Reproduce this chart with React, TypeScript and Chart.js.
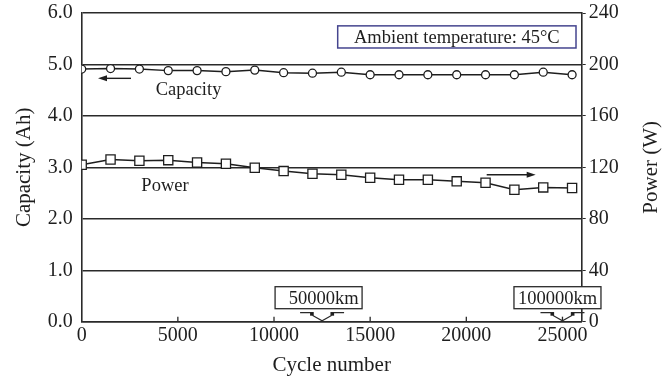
import React, { useEffect, useRef } from 'react';
import { Chart, registerables } from 'chart.js';

Chart.register(...registerables);

const cycles = [0, 1500, 3000, 4500, 6000, 7500, 9000, 10500, 12000, 13500, 15000, 16500, 18000, 19500, 21000, 22500, 24000, 25500];
const capacity = [4.91, 4.92, 4.91, 4.88, 4.88, 4.86, 4.89, 4.84, 4.83, 4.85, 4.80, 4.80, 4.80, 4.80, 4.80, 4.80, 4.85, 4.80];
const power = [122.0, 126.1, 125.1, 125.6, 123.8, 122.8, 119.7, 117.1, 115.0, 114.3, 111.9, 110.4, 110.4, 109.1, 108.0, 102.6, 104.4, 103.9];
const xTickValues = [0, 5000, 10000, 15000, 20000, 25000];
const milestoneCycles = [12500, 25000];
const milestoneLabels = ['50000km', '100000km'];

const FONT = "'Liberation Serif', 'Times New Roman', serif";
const INK = '#1e1e1e';
const LINE = '#2a2a2a';
const SHIFT = 8;

const annotations = {
  id: 'annotations',
  afterDraw(chart: any) {
    const { ctx, scales } = chart;
    const x = scales.x;
    const y = scales.y;
    const px = (v: number) => x.getPixelForValue(v);
    const py = (v: number) => y.getPixelForValue(v);
    ctx.save();

    // inward x ticks
    ctx.strokeStyle = LINE;
    ctx.lineWidth = 1.3;
    xTickValues.slice(1).forEach((t) => {
      ctx.beginPath();
      ctx.moveTo(px(t), y.bottom);
      ctx.lineTo(px(t), y.bottom - 5);
      ctx.stroke();
    });

    // ambient box
    const bx0 = px(13312), bx1 = px(25704), by0 = py(5.75), by1 = py(5.32);
    ctx.fillStyle = '#fff';
    ctx.fillRect(bx0, by0, bx1 - bx0, by1 - by0);
    ctx.strokeStyle = '#45458f';
    ctx.lineWidth = 1.5;
    ctx.strokeRect(bx0, by0, bx1 - bx0, by1 - by0);
    ctx.fillStyle = INK;
    ctx.font = `18.5px ${FONT}`;
    ctx.textAlign = 'center';
    ctx.textBaseline = 'middle';
    ctx.fillText('Ambient temperature: 45°C', (bx0 + bx1) / 2, (by0 + by1) / 2 + 1);

    // arrows
    const arrow = (x0: number, x1: number, yy: number) => {
      ctx.strokeStyle = INK;
      ctx.fillStyle = INK;
      ctx.lineWidth = 1.4;
      const dir = Math.sign(x1 - x0);
      ctx.beginPath();
      ctx.moveTo(x0, yy);
      ctx.lineTo(x1 - dir * 6, yy);
      ctx.stroke();
      ctx.beginPath();
      ctx.moveTo(x1, yy);
      ctx.lineTo(x1 - dir * 9, yy - 3);
      ctx.lineTo(x1 - dir * 9, yy + 3);
      ctx.closePath();
      ctx.fill();
    };
    arrow(px(2564), px(848), py(4.73));
    arrow(px(21060), px(23608), py(2.857));

    ctx.fillStyle = INK;
    ctx.font = `18.5px ${FONT}`;
    ctx.textAlign = 'center';
    ctx.textBaseline = 'middle';
    ctx.fillText('Capacity', px(5554), py(4.51));
    ctx.fillText('Power', px(4332), py(2.63));

    // milestone boxes
    milestoneCycles.forEach((c, i) => {
      const cx = px(c);
      const base = y.bottom;
      ctx.font = `18.5px ${FONT}`;
      const w = 87;
      const bxl = i === 0 ? cx - 47 : cx - 48.5;
      const top = base - 35;
      const h = 22;
      ctx.fillStyle = '#fff';
      ctx.fillRect(bxl, top, w, h);
      ctx.strokeStyle = LINE;
      ctx.lineWidth = 1.3;
      ctx.strokeRect(bxl, top, w, h);
      ctx.fillStyle = INK;
      ctx.textAlign = 'center';
      ctx.textBaseline = 'middle';
      ctx.fillText(milestoneLabels[i], bxl + w / 2 + (i === 0 ? 5 : 0), top + h / 2 + 1);
      // bracket arrow
      ctx.beginPath();
      ctx.moveTo(cx - 22, base - 9);
      ctx.lineTo(cx - 9, base - 9);
      ctx.lineTo(cx - 9, base - 6);
      ctx.lineTo(cx, base - 1);
      ctx.lineTo(cx + 9, base - 6);
      ctx.lineTo(cx + 9, base - 9);
      ctx.lineTo(cx + 22, base - 9);
      ctx.stroke();
      ctx.fillStyle = INK;
      ctx.fillRect(cx - 12, base - 9, 3, 3);
      ctx.fillRect(cx + 9, base - 9, 3, 3);
    });

    // right axis title
    const r = scales.y1;
    ctx.fillStyle = INK;
    ctx.font = `21px ${FONT}`;
    ctx.textAlign = 'center';
    ctx.textBaseline = 'middle';
    ctx.translate(651, (r.top + r.bottom) / 2);
    ctx.rotate(-Math.PI / 2);
    ctx.fillText('Power (W)', 0, 0);
    ctx.restore();
  },
};

export default function App() {
  const ref = useRef<HTMLCanvasElement>(null);
  useEffect(() => {
    if (!ref.current) return;
    const chart = new Chart(ref.current, {
      type: 'line',
      data: {
        datasets: [
          {
            label: 'Capacity',
            data: cycles.map((c, i) => ({ x: c, y: capacity[i] })),
            yAxisID: 'y',
            borderColor: INK,
            borderWidth: 1.5,
            pointStyle: 'circle',
            pointRadius: 4,
            pointBackgroundColor: '#fff',
            pointBorderColor: INK,
            pointBorderWidth: 1.3,
            tension: 0,
          },
          {
            label: 'Power',
            data: cycles.map((c, i) => ({ x: c, y: power[i] })),
            yAxisID: 'y1',
            borderColor: INK,
            borderWidth: 1.5,
            pointStyle: 'rect',
            pointRadius: 6.5,
            pointBackgroundColor: '#fff',
            pointBorderColor: INK,
            pointBorderWidth: 1.3,
            tension: 0,
          },
        ],
      },
      options: {
        animation: false,
        responsive: false,
        layout: { padding: { top: 0, left: 0, right: 0, bottom: 0 } },
        plugins: { legend: { display: false }, tooltip: { enabled: false } },
        scales: {
          x: {
            type: 'linear',
            min: 0,
            max: 26000,
            afterBuildTicks: (s: any) => { s.ticks = xTickValues.map((v) => ({ value: v })); },
            ticks: { color: INK, font: { family: FONT, size: 20 }, padding: 2, maxRotation: 0, callback: (v: any) => String(v) },
            grid: { display: true, drawOnChartArea: false, drawTicks: false },
            border: { display: true, color: LINE, width: 1.6 },
            title: { display: true, text: 'Cycle number', color: INK, font: { family: FONT, size: 21 }, padding: { top: 0, bottom: 2 } },
            afterFit: (s: any) => { s.height = 58.3; },
          },
          y: {
            position: 'left',
            min: 0,
            max: 6,
            ticks: { stepSize: 1, color: INK, font: { family: FONT, size: 20 }, padding: 9, callback: (v: any) => Number(v).toFixed(1) },
            grid: { color: LINE, lineWidth: 1.5, drawTicks: false },
            border: { display: true, color: LINE, width: 1.6 },
            title: { display: true, text: 'Capacity (Ah)', color: INK, font: { family: FONT, size: 21 }, padding: { top: 12, bottom: 0 } },
            afterFit: (s: any) => { s.width = 81.7; },
          },
          y1: {
            position: 'right',
            min: 0,
            max: 240,
            ticks: { stepSize: 40, color: INK, font: { family: FONT, size: 20 }, padding: 3 },
            grid: { drawOnChartArea: false, drawTicks: true, tickLength: 4, color: LINE },
            border: { display: true, color: LINE, width: 1.6 },
            afterFit: (s: any) => { s.width = 84.3; },
          },
        },
      },
      plugins: [annotations],
    });
    return () => chart.destroy();
  }, []);
  return (
    <div style={{ position: 'absolute', left: 0, top: 0, width: 666, height: 380, overflow: 'hidden', background: '#fff' }}>
      <canvas
        ref={ref}
        width={666}
        height={380 + SHIFT}
        style={{ position: 'absolute', left: 0, top: -SHIFT, width: 666, height: 380 + SHIFT }}
      />
    </div>
  );
}
